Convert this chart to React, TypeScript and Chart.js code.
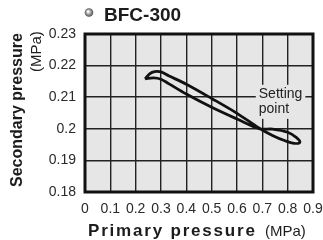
import React, { useEffect, useRef } from "react";
import { Chart, registerables } from "chart.js";

Chart.register(...registerables);

// Hysteresis loop traced clockwise (primary pressure MPa, secondary pressure MPa)
const curveX = [0.237, 0.255, 0.275, 0.3, 0.33, 0.4, 0.5, 0.6, 0.69, 0.74, 0.79, 0.825, 0.848, 0.835, 0.8, 0.74, 0.69, 0.6, 0.5, 0.4, 0.33, 0.3, 0.27, 0.237];
const curveY = [0.2158, 0.2174, 0.2181, 0.218, 0.2168, 0.2141, 0.2096, 0.2049, 0.2001, 0.1979, 0.1962, 0.1954, 0.1957, 0.1972, 0.1989, 0.1999, 0.2, 0.2031, 0.2068, 0.211, 0.2143, 0.2157, 0.2161, 0.2158];

const xTickLabels = ["0", "0.1", "0.2", "0.3", "0.4", "0.5", "0.6", "0.7", "0.8", "0.9"];
const yTickLabels = ["0.18", "0.19", "0.2", "0.21", "0.22", "0.23"];

const titleText = "BFC-300";
const xTitleBold = "Primary pressure";
const yTitleBold = "Secondary pressure";
const unitText = "(MPa)";
const settingLines = ["Setting", "point"];
const settingAt = { x: 0.686, y: 0.2098 };

const FONT = "'Liberation Sans', Arial, Helvetica, sans-serif";

const decor = {
  id: "decor",
  beforeDraw(chart: any) {
    const { ctx, chartArea: a } = chart;
    ctx.save();
    ctx.fillStyle = "#e6e6e6";
    ctx.fillRect(a.left, a.top, a.right - a.left, a.bottom - a.top);
    ctx.restore();
  },
  afterDatasetsDraw(chart: any) {
    const { ctx, scales } = chart;
    const px = scales.x.getPixelForValue(settingAt.x);
    const py = scales.y.getPixelForValue(settingAt.y);
    ctx.save();
    ctx.font = `14px ${FONT}`;
    const w = Math.max(...settingLines.map((s) => ctx.measureText(s).width));
    ctx.fillStyle = "#e6e6e6";
    ctx.fillRect(px - 3, py - 13, w + 6, 15 * settingLines.length + 4);
    ctx.fillStyle = "#222";
    ctx.textBaseline = "alphabetic";
    settingLines.forEach((s, i) => ctx.fillText(s, px, py + i * 15));
    ctx.restore();
  },
  afterDraw(chart: any) {
    const { ctx, chartArea: a } = chart;
    ctx.save();
    // frame
    ctx.strokeStyle = "#111";
    ctx.lineWidth = 3;
    ctx.strokeRect(a.left, a.top, a.right - a.left, a.bottom - a.top);

    // title bullet
    const g = ctx.createRadialGradient(88, 11.5, 0.5, 89, 12.5, 4.5);
    g.addColorStop(0, "#ffffff");
    g.addColorStop(0.5, "#9a9a9a");
    g.addColorStop(1, "#4a4a4a");
    ctx.fillStyle = g;
    ctx.beginPath();
    ctx.arc(89, 12.5, 4.3, 0, Math.PI * 2);
    ctx.fill();

    ctx.fillStyle = "#1c1c1c";
    ctx.textBaseline = "alphabetic";
    ctx.textAlign = "left";
    ctx.font = `bold 19px ${FONT}`;
    ctx.fillText(titleText, 104, 21);

    // x title
    ctx.font = `bold 17px ${FONT}`;
    (ctx as any).letterSpacing = "1.8px";
    ctx.fillText(xTitleBold, 88, 236);
    (ctx as any).letterSpacing = "0px";
    ctx.font = `15px ${FONT}`;
    ctx.fillText(unitText, 265, 236);

    // y title
    ctx.save();
    ctx.translate(22, 187);
    ctx.rotate(-Math.PI / 2);
    ctx.font = `bold 16px ${FONT}`;
    ctx.fillText(yTitleBold, 0, 0);
    ctx.restore();
    ctx.save();
    ctx.translate(41, 72);
    ctx.rotate(-Math.PI / 2);
    ctx.font = `15px ${FONT}`;
    ctx.fillText(unitText, 0, 0);
    ctx.restore();
    ctx.restore();
  },
};

export default function App() {
  const ref = useRef<HTMLCanvasElement | null>(null);
  useEffect(() => {
    if (!ref.current) return;
    const chart = new Chart(ref.current, {
      type: "scatter",
      data: {
        datasets: [
          {
            data: curveX.map((x, i) => ({ x, y: curveY[i] })),
            showLine: true,
            borderColor: "#111",
            borderWidth: 2.8,
            pointRadius: 0,
            tension: 0.35,
            fill: false,
          },
        ],
      },
      options: {
        responsive: false,
        animation: false,
        events: [],
        layout: { padding: { top: 34, right: 0, left: 0, bottom: 0 } },
        plugins: { legend: { display: false }, tooltip: { enabled: false }, title: { display: false } },
        scales: {
          x: {
            type: "linear",
            min: 0,
            max: 0.9,
            afterFit: (s: any) => {
              s.height = 48;
              s.paddingRight = 10;
            },
            ticks: {
              stepSize: 0.1,
              autoSkip: false,
              maxRotation: 0,
              padding: 9,
              color: "#2a2a2a",
              font: { family: FONT, size: 14 },
              callback: (_v: any, i: number) => xTickLabels[i],
            },
            grid: { color: "#222", lineWidth: 1.4, drawTicks: false },
            border: { display: false },
          },
          y: {
            type: "linear",
            min: 0.18,
            max: 0.23,
            afterFit: (s: any) => {
              s.width = 85;
            },
            ticks: {
              stepSize: 0.01,
              autoSkip: false,
              padding: 9,
              color: "#2a2a2a",
              font: { family: FONT, size: 14 },
              callback: (_v: any, i: number) => yTickLabels[i],
            },
            grid: { color: "#222", lineWidth: 1.4, drawTicks: false },
            border: { display: false },
          },
        },
      },
      plugins: [decor],
    });
    return () => chart.destroy();
  }, []);
  return (
    <div style={{ position: "fixed", left: 0, top: 0, width: 323, height: 240, background: "#fff" }}>
      <canvas ref={ref} width={323} height={240} />
    </div>
  );
}
